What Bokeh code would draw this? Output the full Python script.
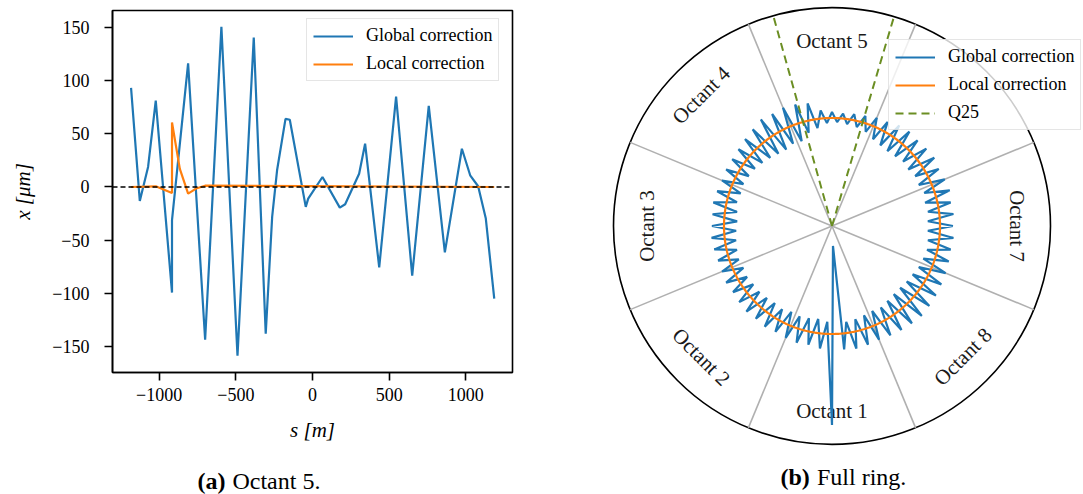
import numpy as np
from bokeh.plotting import figure
from bokeh.layouts import row, column
from bokeh.models import Span, Legend, LegendItem, Label
from bokeh.core.properties import value
from bokeh.embed import file_html
from bokeh.resources import INLINE

FONT = "Liberation Serif"
BLUE = "#1f77b4"
ORANGE = "#ff7f0e"
OLIVE = "#6b8e23"
GRAY = "#b0b0b0"

# ---------------- panel (a): Octant 5 ----------------
s_global = [-1183, -1126, -1072, -1022, -916, -916, -811, -700, -594, -489, -383, -305,
            -263, -231, -176, -148, -44, -28, 65, 178, 213, 304, 343, 435, 545, 650,
            758, 863, 974, 1028, 1080, 1130, 1185]
x_global = [93.2, -13.1, 18.8, 81.3, -99.3, -31.2, 116.3, -143.7, 150.7, -158.7, 140.6, -138.1,
            -28.1, 15.7, 64.1, 63.2, -18.7, -10.9, 9.4, -19.4, -16.2, 12.5, 40.7, -75.6, 85.0, -83.4,
            76.3, -61.5, 36.0, 11.0, 0.7, -29.7, -105.0]
s_local = [-1183, -1022, -916, -916, -865, -811, -759, -700, 1185]
x_local = [0.0, 0.6, -5.6, 60.7, 17.0, -6.2, -1.5, 1.2, 0.0]
x_ticks = [-1000, -500, 0, 500, 1000]
y_ticks = [-150, -100, -50, 0, 50, 100, 150]

# ---------------- panel (b): full ring ----------------
octant_names = ["Octant 1", "Octant 2", "Octant 3", "Octant 4", "Octant 5", "Octant 7", "Octant 8"]
octant_center_deg = [270, 225, 180, 135, 90, 0, 315]
octant_boundary_deg = [22.5, 67.5, 112.5, 157.5, 202.5, 247.5, 292.5, 337.5]
q25_deg = [105.6, 73.5]
# radial offset of the global-correction orbit around the ring (display units),
# one value per sample, going counter-clockwise from the right-hand side
ring_dev = [13, -12, 14, -11, 13, -12, 15, -10, 14, -12, 13, -11, 15, -13, 14, -12,
            13, -14, 14, -15, 13, -14, 10, -12, 9, -8, 7, -6, 6, -5, 5, -4,
            6, -5, 8, -9, 17, -12, 19, -18, 20, -17, 19, -19, 20, -18, 17, -16,
            15, -14, 13, -12, 12, -11, 12, -10, 11, -11, 12, -10, 13, -12, 12, -13,
            12, -12, 13, -11, 12, -10, 11, -9, 11, -10, 12, -9, 11, -10, 12, -10,
            13, -11, 12, -12, 13, -11, 12, -13, 13, -12, 14, -13, 13, -14, 15, -12,
            91, -88, 16, -11, 17, -12, 16, -13, 15, -14, 16, -13, 17, -15, 18, -16,
            19, -16, 18, -15, 17, -14, 16, -12, 15, -11, 14, -10, 13, -11, 14, -12]
local_ring_dev = [0.0, 0.0]   # local correction: no visible offset anywhere on the ring

R_OUT = 218.5   # outer boundary circle
R_REF = 108.0   # reference radius of the orbit circle
R_LAB = 185.0   # radius of octant labels

# ================= figure (a) =================
p1 = figure(width=560, height=466, x_range=(-1304, 1304), y_range=(-174.5, 166),
            output_backend="svg", toolbar_location=None,
            min_border_left=112, min_border_right=48, min_border_top=10, min_border_bottom=94)
p1.grid.visible = False
p1.outline_line_color = "black"
p1.outline_line_width = 1.6
p1.outline_line_alpha = 1.0

for ax in (p1.xaxis[0], p1.yaxis[0]):
    ax.axis_line_color = "black"
    ax.axis_line_width = 1.6
    ax.major_tick_line_color = "black"
    ax.major_tick_line_width = 1.6
    ax.major_tick_out = 8
    ax.major_tick_in = 0
    ax.minor_tick_line_color = None
    ax.major_label_text_font = FONT
    ax.major_label_text_font_size = "18px"
    ax.major_label_text_color = "black"
    ax.axis_label_text_font = FONT
    ax.axis_label_text_font_size = "21px"
    ax.axis_label_text_font_style = "italic"
    ax.axis_label_text_color = "black"

p1.xaxis.major_label_standoff = 7
p1.yaxis.major_label_standoff = 15
p1.xaxis.ticker = x_ticks
p1.yaxis.ticker = y_ticks
p1.xaxis.major_label_overrides = {v: str(v).replace("-", "\u2212") for v in x_ticks}
p1.yaxis.major_label_overrides = {v: str(v).replace("-", "\u2212") for v in y_ticks}
p1.xaxis.axis_label = "s [m]"
p1.yaxis.axis_label = "x [\u03bcm]"
p1.xaxis.axis_label_standoff = 14
p1.yaxis.axis_label_standoff = 14

p1.add_layout(Span(location=0, dimension="width", line_color="black",
                   line_width=1.6, line_dash="5 3"))
r_g = p1.line(s_global, x_global, line_color=BLUE, line_width=2.2)
r_l = p1.line(s_local, x_local, line_color=ORANGE, line_width=2.2)

leg1 = Legend(items=[LegendItem(label="Global correction", renderers=[r_g]),
                     LegendItem(label="Local correction", renderers=[r_l])],
              location=(194, 291))
p1.add_layout(leg1)

# caption strip under panel (a)
pc = figure(width=560, height=28, x_range=(-1304, 1304), y_range=(0, 28),
            output_backend="svg", toolbar_location=None,
            x_axis_location=None, y_axis_location=None,
            min_border_left=112, min_border_right=48, min_border_top=0, min_border_bottom=0)
pc.grid.visible = False
pc.outline_line_color = None
pc.add_layout(Label(x=-750, y=14, text="(a)", text_font=FONT, text_font_style="bold",
                    text_font_size="24px", text_baseline="middle", text_align="left",
                    text_color="black"))
pc.add_layout(Label(x=-522, y=14, text="Octant 5.", text_font=FONT,
                    text_font_size="24px", text_baseline="middle", text_align="left",
                    text_color="black"))

# ================= figure (b) =================
p2 = figure(width=523, height=494, x_range=(-271.5, 251.5), y_range=(-268.5, 225.5),
            output_backend="svg", toolbar_location=None,
            x_axis_location=None, y_axis_location=None, min_border=0)
p2.grid.visible = False
p2.outline_line_color = None

p2.circle(x=0, y=0, radius=R_OUT, fill_color=None, line_color="black", line_width=1.6)

bd = np.deg2rad(octant_boundary_deg)
p2.segment(x0=np.zeros(len(bd)), y0=np.zeros(len(bd)), x1=R_OUT * np.cos(bd), y1=R_OUT * np.sin(bd),
           line_color=GRAY, line_width=1.6)

oc = np.deg2rad(octant_center_deg)
rot = [np.deg2rad(a - 90) if 0 <= a <= 180 else np.deg2rad(a - 270) for a in octant_center_deg]
p2.text(x=R_LAB * np.cos(oc), y=R_LAB * np.sin(oc), text=octant_names, angle=rot,
        text_font=value(FONT), text_font_size="21px", text_align="center",
        text_baseline="middle", text_color="#1a1a1a")

n = len(ring_dev)
th = np.deg2rad(np.arange(n + 1) * 360.0 / n)
rg = R_REF + np.array(ring_dev + ring_dev[:1], dtype=float)
r_g2 = p2.line(rg * np.cos(th), rg * np.sin(th), line_color=BLUE, line_width=2.2)

th_l = np.linspace(0, 2 * np.pi, 721)
rl = R_REF + np.interp(th_l, [0, 2 * np.pi], local_ring_dev)
r_l2 = p2.line(rl * np.cos(th_l), rl * np.sin(th_l), line_color=ORANGE, line_width=2.2)

qd = np.deg2rad(q25_deg)
r_q = p2.segment(x0=[0, 0], y0=[0, 0], x1=R_OUT * np.cos(qd), y1=R_OUT * np.sin(qd),
                 line_color=OLIVE, line_width=2.0, line_dash="8 5")

leg2 = Legend(items=[LegendItem(label="Global correction", renderers=[r_g2]),
                     LegendItem(label="Local correction", renderers=[r_l2]),
                     LegendItem(label="Q25", renderers=[r_q])],
              location=(328, 364))
p2.add_layout(leg2)

p2.add_layout(Label(x=-51.5, y=-251, text="(b)", text_font=FONT, text_font_style="bold",
                    text_font_size="24px", text_baseline="middle", text_align="left",
                    text_color="black"))
p2.add_layout(Label(x=-15, y=-251, text="Full ring.", text_font=FONT,
                    text_font_size="24px", text_baseline="middle", text_align="left",
                    text_color="black"))

for lg in (leg1, leg2):
    lg.label_text_font = FONT
    lg.label_text_font_size = "18px"
    lg.label_text_color = "black"
    lg.glyph_width = 40
    lg.glyph_height = 20
    lg.label_height = 20
    lg.label_standoff = 13
    lg.spacing = 7
    lg.padding = 6
    lg.margin = 0
    lg.border_line_color = "#cccccc"
    lg.border_line_width = 1.2
    lg.background_fill_color = "white"
    lg.background_fill_alpha = 0.8

layout = row(column(p1, pc), column(p2))
open("out.html", "w").write(file_html(layout, INLINE))
